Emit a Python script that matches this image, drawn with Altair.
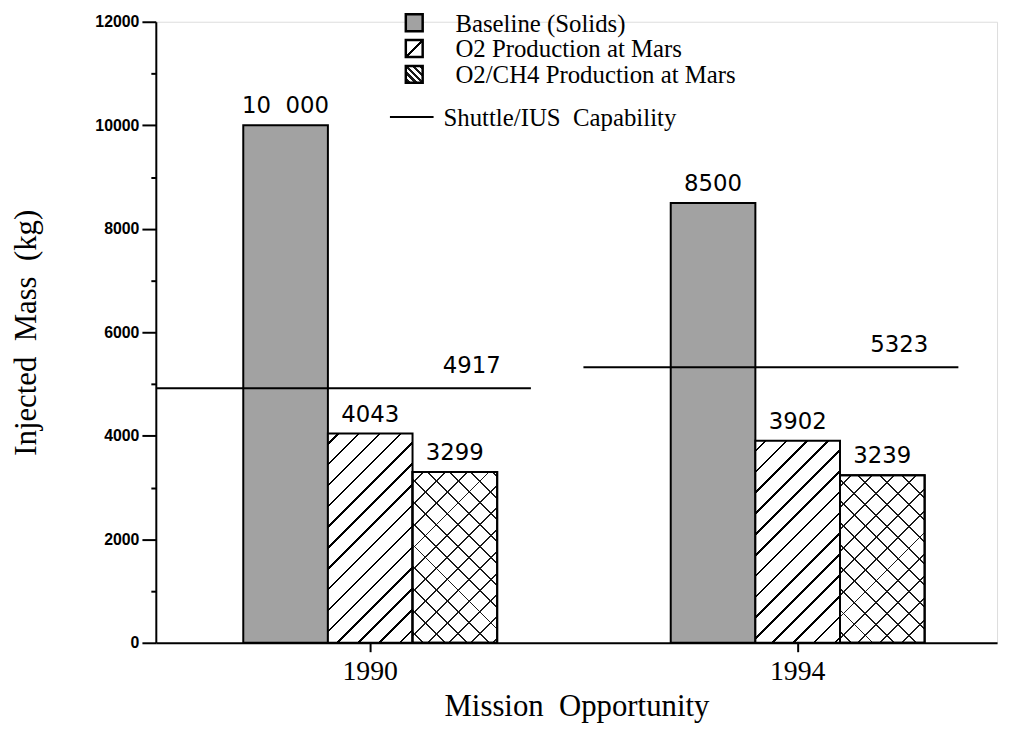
import altair as alt
import pandas as pd

# ---------------- data ----------------
years = ["1990", "1994"]
series = ["Baseline (Solids)", "O2 Production at Mars", "O2/CH4 Production at Mars"]
baseline = [10000, 8500]
o2_mars = [4043, 3902]
o2_ch4_mars = [3299, 3239]
baseline_labels = ["10\u00a0\u00a0000", "8500"]
o2_labels = ["4043", "3902"]
o2_ch4_labels = ["3299", "3239"]
capability = [4917, 5323]
capability_labels = ["4917", "5323"]
capability_name = "Shuttle/IUS\u00a0\u00a0Capability"
y_ticks = list(range(0, 12001, 500))

# ---------------- layout / style ----------------
W, H = 848, 626
YMAX = 12000
P_IN, P_OUT, ALIGN = 0.406, 0.187, 0.547
step = W / (2 - P_IN + 2 * P_OUT)
band = step * (1 - P_IN)
bar_w = band / 3
px_per_unit = H / YMAX

SERIF = "Liberation Serif"
NUMF = "DejaVu Sans"
GRAY = "#a2a2a2"
CLEAR = "rgba(255,255,255,0)"


def stripes(w, h, spacing, lw, color, bg, direction):
    L = w + h
    stops = []
    k = 0
    while True:
        c = k * spacing + spacing / 2
        a = (c - lw / 2) / L
        b = (c + lw / 2) / L
        if a >= 1:
            break
        a = round(max(0.0, a), 5)
        b = round(min(1.0, b), 5)
        stops += [{"offset": a, "color": bg}, {"offset": a, "color": color},
                  {"offset": b, "color": color}, {"offset": b, "color": bg}]
        k += 1
    f = L / (w * w + h * h)
    if direction == "/":
        return {"gradient": "linear", "x1": 0, "y1": 0,
                "x2": round(w * f, 5), "y2": round(h * f, 5), "stops": stops}
    return {"gradient": "linear", "x1": 0, "y1": 1,
            "x2": round(w * f, 5), "y2": round(1 - h * f, 5), "stops": stops}


rows = []
for i, yr in enumerate(years):
    rows.append({"year": yr, "series": series[0], "value": baseline[i], "label": baseline_labels[i]})
    rows.append({"year": yr, "series": series[1], "value": o2_mars[i], "label": o2_labels[i]})
    rows.append({"year": yr, "series": series[2], "value": o2_ch4_mars[i], "label": o2_ch4_labels[i]})
df = pd.DataFrame(rows)
cap_df = pd.DataFrame({"year": years, "cap": capability, "label": capability_labels})

x_enc = alt.X(
    "year:N",
    sort=years,
    scale=alt.Scale(paddingInner=P_IN, paddingOuter=P_OUT, align=ALIGN),
    axis=alt.Axis(
        title="Mission\u00a0\u00a0Opportunity", titleFont=SERIF, titleFontSize=31,
        titleFontWeight="normal", titleColor="black", titlePadding=6,
        labelFont=SERIF, labelFontSize=28, labelColor="black", labelAngle=0,
        labelPadding=6, tickColor="black", tickSize=9, tickWidth=2,
        domainColor="black", domainWidth=2,
    ),
)
xo_enc = alt.XOffset("series:N", scale=alt.Scale(domain=series, paddingInner=0, paddingOuter=0))
y_enc = alt.Y(
    "value:Q",
    scale=alt.Scale(domain=[0, YMAX], nice=False),
    axis=alt.Axis(
        title="Injected\u00a0\u00a0Mass\u00a0\u00a0(kg)", titleFont=SERIF, titleFontSize=31,
        titleFontWeight="normal", titleColor="black", titlePadding=53,
        values=y_ticks, format="d",
        labelExpr="datum.value % 2000 === 0 ? datum.label : ''",
        labelFont="Liberation Sans", labelFontWeight="bold", labelFontSize=16,
        labelColor="black", labelPadding=3,
        tickColor="black", tickWidth=2,
        tickSize={"condition": {"test": "datum.value % 2000 === 0", "value": 14}, "value": 5},
        domainColor="black", domainWidth=2, grid=False,
    ),
)


def grads(values, spacing, lw, color, bg, direction):
    return [stripes(bar_w, v * px_per_unit, spacing, lw, color, bg, direction) for v in values]


def bar_layer(name, fill_1990, fill_1994):
    return alt.Chart(df).transform_filter(alt.datum.series == name).mark_bar(
        stroke="black", strokeWidth=2
    ).encode(
        x=x_enc, xOffset=xo_enc, y=y_enc,
        fill=alt.condition("datum.year == '1990'", alt.value(fill_1990), alt.value(fill_1994)),
    )


g_o2 = grads(o2_mars, 21, 2.6, "black", "white", "/")
g_ch4a = grads(o2_ch4_mars, 22, 1.9, "#1a1a1a", "white", "\\")
g_ch4b = grads(o2_ch4_mars, 22, 1.9, "#1a1a1a", CLEAR, "/")

bars_base = bar_layer(series[0], GRAY, GRAY)
bars_o2 = bar_layer(series[1], g_o2[0], g_o2[1])
bars_ch4a = bar_layer(series[2], g_ch4a[0], g_ch4a[1])
bars_ch4b = bar_layer(series[2], g_ch4b[0], g_ch4b[1])

bar_text = alt.Chart(df).mark_text(
    font=NUMF, fontSize=23, color="black", baseline="alphabetic", dy=-12
).encode(x=x_enc, xOffset=xo_enc, y=y_enc, text="label:N")

cap_rule = alt.Chart(cap_df).mark_rule(
    color="black", strokeWidth=2, xOffset=-88, x2Offset=34
).encode(
    x=alt.X("year:N", bandPosition=0, sort=years),
    x2=alt.X2("year", bandPosition=1),
    y=alt.Y("cap:Q"),
)
cap_text = alt.Chart(cap_df).mark_text(
    font=NUMF, fontSize=23, color="black", baseline="alphabetic", dy=-15
).encode(
    x=alt.X("year:N", bandPosition=0.9, sort=years),
    y=alt.Y("cap:Q"),
    text="label:N",
)

# ---------------- legend (drawn by hand, plot-relative pixels) ----------------
one = pd.DataFrame({"k": [0]})
LX, SW = 252, 17
TX = 302
row_y = [1, 27, 53, 96]
legend_layers = []
sw_fills = [
    GRAY,
    stripes(SW, SW, 2 * SW, 2.6, "black", "white", "/"),
    stripes(SW, SW, 7, 3.2, "#1a1a1a", "white", "\\"),
]
for i, name in enumerate(series):
    yc = row_y[i]
    legend_layers.append(
        alt.Chart(one).mark_rect(stroke="black", strokeWidth=2.5).encode(
            x=alt.value(LX), x2=alt.value(LX + SW),
            y=alt.value(yc - SW / 2), y2=alt.value(yc + SW / 2),
            fill=alt.value(sw_fills[i]),
        )
    )
    legend_layers.append(
        alt.Chart(one).mark_text(font=SERIF, fontSize=25, color="black", align="left", baseline="middle").encode(
            x=alt.value(TX), y=alt.value(yc + 1), text=alt.value(name)
        )
    )
yc = row_y[3]
legend_layers.append(
    alt.Chart(one).mark_rule(color="black", strokeWidth=2).encode(
        x=alt.value(LX - 16), x2=alt.value(LX + 28), y=alt.value(yc)
    )
)
legend_layers.append(
    alt.Chart(one).mark_text(font=SERIF, fontSize=25, color="black", align="left", baseline="middle").encode(
        x=alt.value(TX - 12), y=alt.value(yc + 1), text=alt.value(capability_name)
    )
)

chart = alt.layer(
    bars_base, bars_o2, bars_ch4a, bars_ch4b, bar_text, cap_rule, cap_text, *legend_layers
).properties(
    width=W, height=H,
    padding={"left": 149, "top": 11, "right": 8, "bottom": 78},
    autosize=alt.AutoSizeParams(type="none"),
).configure_view(stroke=None).configure(background="white")

chart.save("out.html", embed_options={"renderer": "svg", "actions": False})
